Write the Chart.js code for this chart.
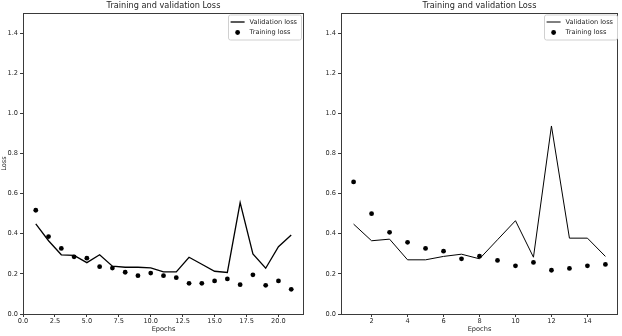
<!DOCTYPE html>
<html>
<head>
<meta charset="utf-8">
<script src="https://cdn.jsdelivr.net/npm/chart.js@4"></script>
<style>
  html, body { margin: 0; padding: 0; background: #fff; }
  #wrap { position: relative; width: 622px; height: 336px; }
  .panel { position: absolute; top: 0; width: 311px; height: 336px; }
</style>
</head>
<body>
<div id="wrap">
  <div class="panel" style="left:0"><canvas id="lossLeft" width="311" height="336"></canvas></div>
  <div class="panel" style="left:311px"><canvas id="lossRight" width="311" height="336"></canvas></div>
</div>
<script>
// labels
const chartTitle = 'Training and validation Loss';
const xAxisLabel = 'Epochs';
const yAxisLabel = 'Loss';
const valLabel = 'Validation loss';
const trainLabel = 'Training loss';

// left run (21 epochs)
const epochsLeft = [1, 2, 3, 4, 5, 6, 7, 8, 9, 10, 11, 12, 13, 14, 15, 16, 17, 18, 19, 20, 21];
const trainLossLeft = [0.517, 0.386, 0.327, 0.285, 0.278, 0.236, 0.229, 0.208, 0.191, 0.204, 0.191,
  0.181, 0.153, 0.153, 0.165, 0.175, 0.146, 0.195, 0.143, 0.165, 0.123];
const valLossLeft = [0.449, 0.365, 0.295, 0.292, 0.256, 0.295, 0.238, 0.233, 0.233, 0.230, 0.210,
  0.210, 0.283, 0.248, 0.213, 0.207, 0.555, 0.299, 0.228, 0.335, 0.394];

// right run (15 epochs)
const epochsRight = [1, 2, 3, 4, 5, 6, 7, 8, 9, 10, 11, 12, 13, 14, 15];
const trainLossRight = [0.658, 0.500, 0.407, 0.357, 0.327, 0.313, 0.275, 0.288, 0.267, 0.240,
  0.257, 0.218, 0.227, 0.240, 0.247];
const valLossRight = [0.448, 0.365, 0.373, 0.270, 0.270, 0.287, 0.298, 0.275, 0.370, 0.465,
  0.283, 0.937, 0.378, 0.378, 0.287];

// tick labels
const yTicks = [0, 0.2, 0.4, 0.6, 0.8, 1.0, 1.2, 1.4];
const xTicksLeft = [0, 2.5, 5, 7.5, 10, 12.5, 15, 17.5, 20];
const xTicksRight = [2, 4, 6, 8, 10, 12, 14];

const FONT = '"DejaVu Sans", sans-serif';
const INK = '#262626';
const SMALL = 6.6;

// frame, title and in-axes legend, matplotlib style
const axesDecor = {
  id: 'axesDecor',
  afterDatasetsDraw(chart, args, opts) {
    const { ctx, chartArea: a } = chart;
    ctx.save();

    // axes frame
    ctx.strokeStyle = '#3a3a3a';
    ctx.lineWidth = 1;
    ctx.strokeRect(Math.round(a.left) + 0.5, Math.round(a.top) + 0.5,
      Math.round(a.right - a.left) - 1, Math.round(a.bottom - a.top));

    // title
    ctx.fillStyle = INK;
    ctx.font = '8.2px ' + FONT;
    ctx.textAlign = 'center';
    ctx.textBaseline = 'middle';
    ctx.fillText(opts.title, (a.left + a.right) / 2, 5.5);

    // legend box
    const ds = chart.data.datasets;
    ctx.font = SMALL + 'px ' + FONT;
    const textW = Math.max(...ds.map(d => ctx.measureText(d.label).width));
    const boxW = 22 + textW + 4;
    const boxH = 25;
    const bx = a.right - opts.legendRight - boxW;
    const by = a.top + 1.5;
    ctx.fillStyle = 'rgba(255,255,255,0.85)';
    ctx.strokeStyle = '#d0d0d0';
    ctx.lineWidth = 1;
    ctx.beginPath();
    ctx.roundRect(Math.round(bx) + 0.5, by + 0.5, Math.round(boxW), boxH, 2);
    ctx.fill();
    ctx.stroke();

    ds.forEach((d, i) => {
      const rowY = by + 7.5 + i * 10.5;
      if (d.showLine) {
        ctx.strokeStyle = d.borderColor;
        ctx.lineWidth = d.borderWidth;
        ctx.beginPath();
        ctx.moveTo(bx + 3, rowY);
        ctx.lineTo(bx + 17, rowY);
        ctx.stroke();
      } else {
        ctx.fillStyle = d.backgroundColor;
        ctx.beginPath();
        ctx.arc(bx + 10, rowY, d.pointRadius, 0, Math.PI * 2);
        ctx.fill();
      }
      ctx.fillStyle = INK;
      ctx.textAlign = 'left';
      ctx.fillText(d.label, bx + 22, rowY);
    });

    ctx.restore();
  }
};

function toPoints(xs, ys) {
  return xs.map((x, i) => ({ x: x, y: ys[i] }));
}

function makeLossChart(canvasId, cfg) {
  const ctx = document.getElementById(canvasId).getContext('2d');
  return new Chart(ctx, {
    type: 'scatter',
    data: {
      datasets: [
        {
          label: valLabel,
          data: toPoints(cfg.epochs, cfg.val),
          showLine: true,
          borderColor: '#000',
          backgroundColor: '#000',
          borderWidth: cfg.lineWidth,
          pointRadius: 0,
          tension: 0
        },
        {
          label: trainLabel,
          data: toPoints(cfg.epochs, cfg.train),
          showLine: false,
          borderColor: '#000',
          backgroundColor: '#000',
          borderWidth: 0,
          pointRadius: 2.4
        }
      ]
    },
    options: {
      responsive: false,
      animation: false,
      devicePixelRatio: 1,
      layout: { padding: { left: 0, right: cfg.padRight, top: 13, bottom: 0 } },
      plugins: {
        legend: { display: false },
        tooltip: { enabled: false },
        title: { display: false },
        axesDecor: { title: chartTitle, legendRight: cfg.legendRight }
      },
      scales: {
        x: {
          type: 'linear',
          min: cfg.xMin,
          max: cfg.xMax,
          afterBuildTicks: s => { s.ticks = cfg.xTicks.map(v => ({ value: v })); },
          afterFit: s => { s.height = 22; },
          border: { display: false },
          grid: { drawOnChartArea: false, drawTicks: true, tickLength: 3, color: '#3a3a3a' },
          ticks: {
            padding: 0,
            maxRotation: 0,
            autoSkip: false,
            color: INK,
            font: { family: FONT, size: SMALL },
            callback: v => cfg.xFmt(v)
          },
          title: {
            display: true,
            text: xAxisLabel,
            color: INK,
            font: { family: FONT, size: SMALL },
            padding: { top: 0, bottom: 3 }
          }
        },
        y: {
          min: 0,
          max: 1.5,
          afterBuildTicks: s => { s.ticks = yTicks.map(v => ({ value: v })); },
          afterFit: s => { s.width = cfg.yWidth; },
          border: { display: false },
          grid: { drawOnChartArea: false, drawTicks: true, tickLength: 3, color: '#3a3a3a' },
          ticks: {
            padding: 2,
            autoSkip: false,
            color: INK,
            font: { family: FONT, size: SMALL },
            callback: v => v.toFixed(1)
          },
          title: {
            display: cfg.showYTitle,
            text: yAxisLabel,
            color: INK,
            font: { family: FONT, size: SMALL },
            padding: { top: 0, bottom: 0 }
          }
        }
      }
    },
    plugins: [axesDecor]
  });
}

makeLossChart('lossLeft', {
  epochs: epochsLeft, train: trainLossLeft, val: valLossLeft,
  xMin: 0, xMax: 22, xTicks: xTicksLeft, xFmt: v => v.toFixed(1),
  yWidth: 23, padRight: 7, showYTitle: true, lineWidth: 1.3, legendRight: 3
});

makeLossChart('lossRight', {
  epochs: epochsRight, train: trainLossRight, val: valLossRight,
  xMin: 0.3, xMax: 15.7, xTicks: xTicksRight, xFmt: v => String(v),
  yWidth: 30, padRight: 1, showYTitle: false, lineWidth: 1, legendRight: 1
});
</script>
</body>
</html>
